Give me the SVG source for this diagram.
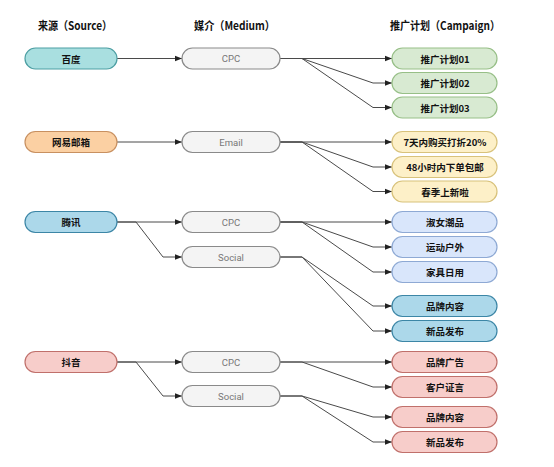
<svg xmlns="http://www.w3.org/2000/svg" width="554" height="467" viewBox="0 0 554 467">
<style>
.hdr{font-family:"Noto Sans CJK SC","Liberation Sans",sans-serif;font-size:11.5px;font-weight:bold;fill:#111;text-anchor:middle}
.lbl{font-family:"Noto Sans CJK SC","Liberation Sans",sans-serif;font-size:9.5px;font-weight:bold;fill:#111;text-anchor:middle;dominant-baseline:central}
.med{font-family:Roboto,"Liberation Sans",sans-serif;font-size:9.5px;fill:#777;text-anchor:middle;dominant-baseline:central}
.conn path{fill:none;stroke:#4a4a4a;stroke-width:1;marker-end:url(#arr)}
.teal{fill:#a9dfe0;stroke:#4d9fa3}
.orange{fill:#fbd0a3;stroke:#c89060}
.green{fill:#d8ead2;stroke:#97bf87}
.yellow{fill:#fdf0c8;stroke:#d8c27b}
.lblue{fill:#d9e6fb;stroke:#8ea9d4}
.blue{fill:#acd8ea;stroke:#3c86a6}
.red{fill:#f7cdca;stroke:#c0706b}
.gray{fill:#f4f4f4;stroke:#8a8a8a}
rect{stroke-width:1.2}
</style>
<defs>
<marker id="arr" viewBox="0 0 10 10" refX="10" refY="5" markerWidth="7" markerHeight="7" markerUnits="userSpaceOnUse" orient="auto">
<path d="M0,1 L10,5 L0,9 Z" fill="#222"/>
</marker>
</defs>
<rect width="554" height="467" fill="#fff" stroke="none"/>
<g id="headers">
<text class="hdr" x="75" y="30" textLength="74" lengthAdjust="spacingAndGlyphs">来源（Source）</text>
<text class="hdr" x="234.5" y="30" textLength="81" lengthAdjust="spacingAndGlyphs">媒介（Medium）</text>
<text class="hdr" x="445" y="30" textLength="110" lengthAdjust="spacingAndGlyphs">推广计划（Campaign）</text>
</g>
<g class="conn" id="connectors">
<path d="M117,58.5 H182"/>
<path d="M280,58.5 H392"/>
<path d="M280,58.5 H302 L373,83 H392"/>
<path d="M280,58.5 H302 L373,107.5 H392"/>
<path d="M117,142 H182"/>
<path d="M280,142 H392"/>
<path d="M280,142 H302 L373,167 H392"/>
<path d="M280,142 H302 L373,191.5 H392"/>
<path d="M117,222 H182"/>
<path d="M117,222 H136 L163,257 H182"/>
<path d="M280,222 H392"/>
<path d="M280,222 H302 L373,247 H392"/>
<path d="M280,222 H302 L373,272 H392"/>
<path d="M280,257 H302 L373,306 H392"/>
<path d="M280,257 H302 L373,331 H392"/>
<path d="M117,362 H182"/>
<path d="M117,362 H136 L163,396 H182"/>
<path d="M280,362 H392"/>
<path d="M280,362 H302 L373,387 H392"/>
<path d="M280,396 H302 L373,417 H392"/>
<path d="M280,396 H302 L373,442 H392"/>
</g>
<g id="src-baidu"><rect class="teal" x="25" y="48" width="92" height="21" rx="10.5"/><text class="lbl" x="71" y="58.5">百度</text></g>
<g id="src-netease"><rect class="orange" x="25" y="131.5" width="92" height="21" rx="10.5"/><text class="lbl" x="71" y="142">网易邮箱</text></g>
<g id="src-tencent"><rect class="blue" x="25" y="211.5" width="92" height="21" rx="10.5"/><text class="lbl" x="71" y="222">腾讯</text></g>
<g id="src-douyin"><rect class="red" x="25" y="351.5" width="92" height="21" rx="10.5"/><text class="lbl" x="71" y="362">抖音</text></g>
<g id="med-baidu-cpc"><rect class="gray" x="182" y="48" width="98" height="21" rx="10.5"/><text class="med" x="231" y="58.5">CPC</text></g>
<g id="med-email"><rect class="gray" x="182" y="131.5" width="98" height="21" rx="10.5"/><text class="med" x="231" y="142">Email</text></g>
<g id="med-tencent-cpc"><rect class="gray" x="182" y="211.5" width="98" height="21" rx="10.5"/><text class="med" x="231" y="222">CPC</text></g>
<g id="med-tencent-social"><rect class="gray" x="182" y="246.5" width="98" height="21" rx="10.5"/><text class="med" x="231" y="257">Social</text></g>
<g id="med-douyin-cpc"><rect class="gray" x="182" y="351.5" width="98" height="21" rx="10.5"/><text class="med" x="231" y="362">CPC</text></g>
<g id="med-douyin-social"><rect class="gray" x="182" y="385.5" width="98" height="21" rx="10.5"/><text class="med" x="231" y="396">Social</text></g>
<g id="c1"><rect class="green" x="392" y="48" width="105" height="21" rx="10.5"/><text class="lbl" x="445" y="58.5">推广计划01</text></g>
<g id="c2"><rect class="green" x="392" y="72.5" width="105" height="21" rx="10.5"/><text class="lbl" x="445" y="83">推广计划02</text></g>
<g id="c3"><rect class="green" x="392" y="97" width="105" height="21" rx="10.5"/><text class="lbl" x="445" y="107.5">推广计划03</text></g>
<g id="c4"><rect class="yellow" x="392" y="131.5" width="105" height="21" rx="10.5"/><text class="lbl" x="445" y="142">7天内购买打折20%</text></g>
<g id="c5"><rect class="yellow" x="392" y="156.5" width="105" height="21" rx="10.5"/><text class="lbl" x="445" y="167">48小时内下单包邮</text></g>
<g id="c6"><rect class="yellow" x="392" y="181" width="105" height="21" rx="10.5"/><text class="lbl" x="445" y="191.5">春季上新啦</text></g>
<g id="c7"><rect class="lblue" x="392" y="211.5" width="105" height="21" rx="10.5"/><text class="lbl" x="445" y="222">淑女潮品</text></g>
<g id="c8"><rect class="lblue" x="392" y="236.5" width="105" height="21" rx="10.5"/><text class="lbl" x="445" y="247">运动户外</text></g>
<g id="c9"><rect class="lblue" x="392" y="261.5" width="105" height="21" rx="10.5"/><text class="lbl" x="445" y="272">家具日用</text></g>
<g id="c10"><rect class="blue" x="392" y="295.5" width="105" height="21" rx="10.5"/><text class="lbl" x="445" y="306">品牌内容</text></g>
<g id="c11"><rect class="blue" x="392" y="320.5" width="105" height="21" rx="10.5"/><text class="lbl" x="445" y="331">新品发布</text></g>
<g id="c12"><rect class="red" x="392" y="351.5" width="105" height="21" rx="10.5"/><text class="lbl" x="445" y="362">品牌广告</text></g>
<g id="c13"><rect class="red" x="392" y="376.5" width="105" height="21" rx="10.5"/><text class="lbl" x="445" y="387">客户证言</text></g>
<g id="c14"><rect class="red" x="392" y="406.5" width="105" height="21" rx="10.5"/><text class="lbl" x="445" y="417">品牌内容</text></g>
<g id="c15"><rect class="red" x="392" y="431.5" width="105" height="21" rx="10.5"/><text class="lbl" x="445" y="442">新品发布</text></g>
</svg>
